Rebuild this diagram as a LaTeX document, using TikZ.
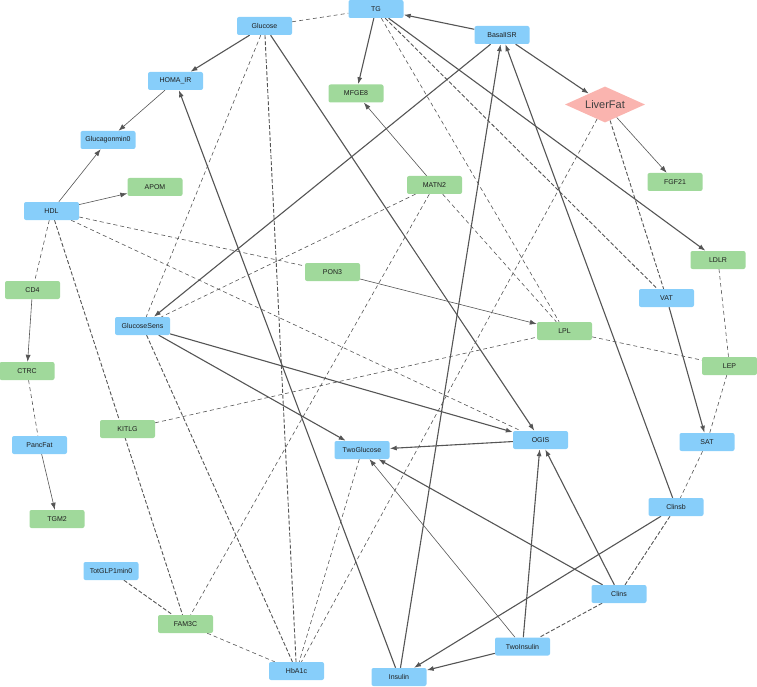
\documentclass[tikz,border=0pt]{standalone}
\usepackage{fontspec}
\setmainfont{Liberation Sans}
\usetikzlibrary{shapes.geometric,arrows.meta}
\pgfdeclarelayer{background}
\pgfsetlayers{background,main}
\definecolor{nblue}{RGB}{135,206,250}
\definecolor{ngreen}{RGB}{160,217,155}
\definecolor{npink}{RGB}{250,180,175}
\definecolor{edgegray}{RGB}{85,85,85}
\definecolor{txt}{RGB}{30,30,30}
\tikzset{
  basebox/.style={rectangle, rounded corners=2pt, minimum width=55pt, minimum height=18pt, inner sep=0pt, font=\fontsize{7}{8}\selectfont, text=txt},
  bn/.style={basebox, fill=nblue},
  gn/.style={basebox, fill=ngreen},
  pn/.style={diamond, fill=npink, minimum width=80pt, minimum height=36pt, inner sep=0pt, aspect=2.2, font=\fontsize{11}{12}\selectfont, text=txt!85},
  arr/.style={draw=edgegray, line width=1.1pt, -{Latex[length=7pt,width=5pt]}},
  arrthin/.style={draw=edgegray, line width=0.6pt, -{Latex[length=7pt,width=5pt]}},
  dl/.style={draw=edgegray, line width=0.6pt, dash pattern=on 4pt off 3pt},
  dh/.style={draw=edgegray, line width=0.9pt, dash pattern=on 4pt off 2pt},
}
\begin{document}
\begin{tikzpicture}[x=1pt,y=-1pt]
\useasboundingbox (0,0) rectangle (757,687);
% nodes
\node[bn] (TG) at (376,9) {TG};
\node[bn] (Glucose) at (264.5,26) {Glucose};
\node[bn] (BasalISR) at (502,35) {BasalISR};
\node[pn] (LiverFat) at (605,104.5) {LiverFat};
\node[bn] (HOMAIR) at (175.5,81) {HOMA\_IR};
\node[gn] (MFGE8) at (356,93.5) {MFGE8};
\node[bn] (Glucagon) at (108,140) {Glucagonmin0};
\node[gn] (APOM) at (155,187) {APOM};
\node[bn] (HDL) at (51.5,211) {HDL};
\node[gn] (MATN2) at (434.5,185) {MATN2};
\node[gn] (FGF21) at (675,182) {FGF21};
\node[gn] (PON3) at (332.5,272) {PON3};
\node[gn] (CD4) at (32.5,290) {CD4};
\node[gn] (LDLR) at (718,260) {LDLR};
\node[bn] (VAT) at (666.5,298) {VAT};
\node[bn] (GlucoseSens) at (142.5,326) {GlucoseSens};
\node[gn] (LPL) at (564.5,331) {LPL};
\node[gn] (CTRC) at (27,371) {CTRC};
\node[gn] (LEP) at (729.5,366) {LEP};
\node[gn] (KITLG) at (127.5,429) {KITLG};
\node[bn] (PancFat) at (39.5,445) {PancFat};
\node[bn] (TwoGlucose) at (362,450) {TwoGlucose};
\node[bn] (OGIS) at (540.5,440) {OGIS};
\node[bn] (SAT) at (707,442) {SAT};
\node[bn] (Clinsb) at (676,507) {Clinsb};
\node[gn] (TGM2) at (57,519) {TGM2};
\node[bn] (TotGLP) at (111,571) {TotGLP1min0};
\node[bn] (Clins) at (619,594) {Clins};
\node[gn] (FAM3C) at (185.5,624) {FAM3C};
\node[bn] (TwoInsulin) at (522.5,646.5) {TwoInsulin};
\node[bn] (HbA1c) at (296.5,671) {HbA1c};
\node[bn] (Insulin) at (399,677) {Insulin};
\begin{pgfonlayer}{background}
% solid thick arrows
\draw[arr] (BasalISR) -- (TG);
\draw[arr] (BasalISR) -- (LiverFat);
\draw[arr] (TG) -- (MFGE8);
\draw[arr] (Glucose) -- (HOMAIR);
\draw[arr] (TG) -- (LDLR);
\draw[arr] (BasalISR) -- (GlucoseSens);
\draw[arr] (Glucose) -- (OGIS);
\draw[arr] (Insulin) -- (HOMAIR);
\draw[arr] (Insulin) -- (BasalISR);
\draw[arr] (Clinsb) -- (BasalISR);
\draw[arr] (GlucoseSens) -- (OGIS);
\draw[arr] (GlucoseSens) -- (TwoGlucose);
\draw[arr] (OGIS) -- (TwoGlucose);
\draw[arr] (Clins) -- (TwoGlucose);
\draw[arr] (Clins) -- (OGIS);
\draw[arr] (TwoInsulin) -- (OGIS);
\draw[arr] (Clinsb) -- (Insulin);
\draw[arr] (TwoInsulin) -- (Insulin);
\draw[arr] (VAT) -- (SAT);
% solid thin arrows
\draw[arrthin] (HOMAIR) -- (Glucagon);
\draw[arrthin] (HDL) -- (Glucagon);
\draw[arrthin] (HDL) -- (APOM);
\draw[arrthin] (LiverFat) -- (FGF21);
\draw[arrthin] (MATN2) -- (MFGE8);
\draw[arrthin] (PON3) -- (LPL);
\draw[arrthin] (TwoInsulin) -- (TwoGlucose);
\draw[arrthin] (CD4) -- (CTRC);
\draw[arrthin] (PancFat) -- (TGM2);
% light dashed
\draw[dl] (Glucose) -- (TG);
\draw[dl] (Glucose) -- (GlucoseSens);
\draw[dl] (TG) -- (LPL);
\draw[dl] (MATN2) -- (LPL);
\draw[dl] (MATN2) -- (GlucoseSens);
\draw[dl] (MATN2) -- (FAM3C);
\draw[dl] (LiverFat) -- (HbA1c);
\draw[dl] (HDL) -- (PON3);
\draw[dl] (HDL) -- (OGIS);
\draw[dl] (HDL) -- (CD4);
\draw[dl] (CTRC) -- (PancFat);
\draw[dl] (KITLG) -- (LPL);
\draw[dl] (LPL) -- (LEP);
\draw[dl] (LDLR) -- (LEP);
\draw[dl] (LEP) -- (SAT);
\draw[dl] (SAT) -- (Clinsb);
\draw[dl] (TwoGlucose) -- (HbA1c);
\draw[dl] (FAM3C) -- (HbA1c);
% heavy dashed
\draw[dh] (TG) -- (VAT);
\draw[dh] (LiverFat) -- (VAT);
\draw[dh] (Glucose) -- (HbA1c);
\draw[dh] (HDL) -- (FAM3C);
\draw[dh] (GlucoseSens) -- (HbA1c);
\draw[dh] (TotGLP) -- (FAM3C);
\draw[dh] (Clinsb) -- (Clins);
\draw[dh] (Clins) -- (TwoInsulin);
\end{pgfonlayer}
\end{tikzpicture}
\end{document}
